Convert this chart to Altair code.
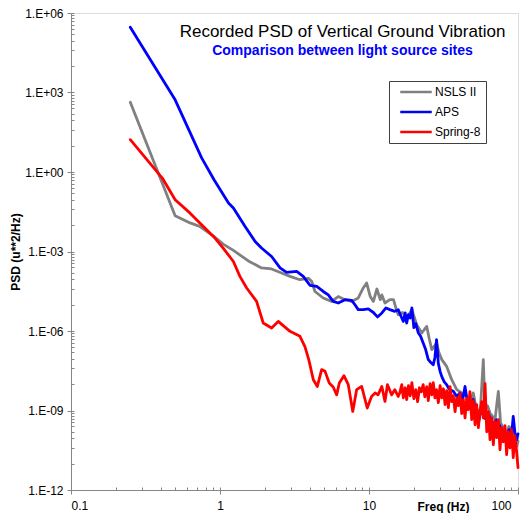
import altair as alt
import pandas as pd

# ---------------- data ----------------
nsls_freq = [0.25, 0.5, 0.63, 0.73, 0.9, 1.05, 1.23, 1.55, 1.9, 2.22, 2.59, 2.95, 3.44,
             3.92, 4.12, 4.34, 4.93, 5.61, 6.22, 6.9, 7.65, 8.47, 9.15, 9.64, 10.2, 10.7,
             11.3, 11.9, 12.2, 12.8, 13.8, 14.6, 15.2, 15.7, 16.8, 17.9, 19.4, 20.9, 22.6,
             24.4, 25.4, 26.4, 28.4, 29.5, 30.8, 33.2, 35.9, 38.8, 41.9, 45.3, 47.6, 50.1,
             52.0, 54.2, 56.0, 58.5, 60.1, 62.5, 64.9, 67.5, 70.1, 73.8, 76.4, 80.0, 83.9,
             87.0, 90.6, 94.0, 98.0, 100]
nsls_psd = [4.3e2, 2.25e-2, 1.2e-2, 8.9e-3, 3.9e-3, 1.9e-3, 1.1e-3, 4.4e-4, 2.4e-4, 2.2e-4,
            1.55e-4, 1.15e-4, 8.6e-5, 9.7e-5, 7.5e-5, 3.1e-5, 1.76e-5, 1.31e-5, 2.0e-5,
            1.52e-5, 1.31e-5, 1.76e-5, 4.2e-5, 6.5e-5, 2.0e-5, 1.31e-5, 3.85e-5, 1.52e-5,
            2.3e-5, 1.14e-5, 1.52e-5, 1.52e-5, 7.0e-6, 4.1e-6, 5.0e-6, 3.1e-6, 6.4e-6,
            1.73e-6, 8.4e-7, 1.49e-6, 5.0e-7, 1.97e-7, 3.5e-7, 1.5e-7, 8.3e-8, 4.6e-8,
            1.45e-8, 6.1e-9, 4.6e-9, 3.4e-9, 1.6e-9, 4.6e-9, 1.5e-9, 8.0e-10, 1.2e-9,
            8.3e-8, 1.07e-9, 1.5e-9, 8.0e-10, 6.0e-10, 4.5e-10, 5.3e-9, 3.4e-10, 2.2e-10,
            1.42e-10, 2.5e-10, 1.88e-10, 9.0e-11, 4.4e-11, 7.0e-11]

aps_freq = [0.25, 0.5, 0.753, 0.912, 1.14, 1.23, 1.47, 1.72, 1.9, 2.22, 2.53, 2.8, 3.27,
            3.62, 4.02, 4.46, 4.93, 5.33, 5.75, 6.22, 6.9, 7.65, 8.05, 8.47, 9.15, 9.89,
            10.7, 11.4, 12.2, 13.0, 13.8, 14.9, 15.7, 16.4, 17.0, 17.5, 17.9, 18.4, 18.9,
            19.4, 20.0, 20.6, 21.4, 22.2, 23.1, 24.0, 25.0, 26.0, 27.0, 27.7, 28.4, 29.2,
            30.0, 30.8, 32.0, 33.2, 34.5, 35.9, 36.8, 38.8, 40.8, 42.5, 44.1, 45.3, 46.4,
            48.0, 50.1, 52.0, 54.2, 55.6, 57.0, 59.3, 61.7, 64.0, 66.6, 68.3, 71.9, 75.7,
            79.7, 83.9, 87.0, 90.6, 92.9, 95.4, 98.0, 100]
aps_psd = [2.9e5, 5.3e2, 3.4, 0.51, 0.068, 0.044, 8.9e-3, 2.4e-3, 1.35e-3, 6.5e-4, 2.4e-4,
           1.63e-4, 1.77e-4, 1.15e-4, 5.3e-5, 4.8e-5, 3.1e-5, 2.3e-5, 1.31e-5, 1.14e-5,
           1.52e-5, 1.43e-5, 9.8e-6, 6.4e-6, 6.4e-6, 6.8e-6, 5.0e-6, 3.4e-6, 4.8e-6, 7.4e-6,
           6.4e-6, 5.5e-6, 6.4e-6, 3.6e-6, 2.3e-6, 4.8e-6, 2.0e-6, 4.1e-6, 3.1e-6, 7.4e-6,
           1.33e-6, 1.9e-6, 8.6e-7, 6.3e-7, 3.5e-7, 2.0e-7, 8.3e-8, 6.5e-8, 5.3e-8, 1.0e-7,
           4.7e-7, 6.0e-8, 3.0e-8, 1.9e-8, 1.2e-8, 9.4e-9, 6.5e-9, 5.6e-9, 5.3e-9, 3.4e-9,
           4.6e-9, 2.5e-9, 8.1e-9, 3.0e-9, 1.9e-9, 1.2e-9, 2.6e-9, 9.0e-10, 3.4e-10, 7.0e-10,
           1.07e-9, 5.3e-10, 4.5e-10, 6.6e-10, 2.7e-10, 3.4e-10, 4.5e-10, 2.5e-10, 1.6e-10,
           1.05e-10, 1.9e-10, 1.2e-10, 6.0e-10, 1.4e-10, 7.9e-11, 1.3e-10]

spring8_freq = [0.25, 0.41, 0.5, 0.63, 0.77, 0.925, 1.05, 1.23, 1.36, 1.51, 1.76, 1.95,
                2.22, 2.46, 2.95, 3.44, 3.72, 3.95, 4.23, 4.5, 4.81, 5.07, 5.41, 5.75, 6.07,
                6.32, 6.79, 7.26, 7.78, 8.26, 8.93, 9.73, 10.4, 11.0, 11.5, 12.2, 12.8, 13.3,
                14.2, 14.9, 15.7, 16.1, 16.6, 17.0, 17.5, 17.9, 18.4, 18.9, 19.4, 20.0, 20.6,
                21.2, 21.8, 22.4, 23.1, 23.7, 24.4, 25.0, 25.7, 26.4, 27.0, 27.7, 28.4, 29.2,
                30.0, 30.8, 31.6, 32.4, 33.2, 34.1, 35.0, 35.9, 36.8, 37.8, 38.8, 39.8, 40.8,
                41.9, 43.0, 44.1, 45.3, 46.4, 47.6, 48.9, 50.1, 51.5, 52.8, 54.2, 55.6, 57.0,
                58.5, 60.1, 61.7, 63.3, 64.9, 66.6, 68.3, 70.1, 71.9, 73.8, 75.7, 77.7, 79.7,
                81.8, 83.9, 86.1, 88.3, 90.6, 92.9, 95.4, 97.9, 100]
spring8_psd = [16.6, 0.59, 0.09, 0.028, 8.9e-3, 3.2e-3, 1.35e-3, 4.2e-4, 1.15e-4, 4.2e-5,
               1.31e-5, 2.0e-6, 1.3e-6, 2.3e-6, 9.7e-7, 6.3e-7, 2.5e-7, 8.0e-8, 1.45e-8,
               8.1e-9, 3.5e-8, 3.0e-8, 1.09e-8, 7.7e-9, 3.9e-9, 1.09e-8, 2.06e-8, 9.4e-9,
               9.2e-10, 6.1e-9, 8.1e-9, 1.24e-9, 3.4e-9, 4.6e-9, 3.9e-9, 8.1e-9, 2.2e-9,
               9.4e-9, 3.9e-9, 6.1e-9, 3.4e-9, 4.7e-9, 9.4e-9, 3.0e-9, 7.2e-9, 2.56e-9,
               8.6e-9, 3.6e-9, 1.12e-8, 2.8e-9, 6.1e-9, 2.15e-9, 7.2e-9, 5.1e-9, 9.4e-9,
               3.3e-9, 7.9e-9, 2.34e-9, 1.03e-8, 3.9e-9, 1.12e-8, 3.0e-9, 6.1e-9, 1.97e-9,
               8.6e-9, 3.0e-9, 6.6e-9, 1.66e-9, 5.6e-9, 1.28e-9, 7.9e-9, 2.15e-9, 3.6e-9,
               9.0e-10, 3.0e-9, 1.52e-9, 4.3e-9, 7.6e-10, 2.56e-9, 5.3e-10, 3.0e-9, 1.07e-9,
               5.1e-9, 4.5e-10, 2.34e-9, 2.9e-10, 1.66e-9, 2.24e-10, 9.0e-10, 2.15e-9,
               5.3e-10, 1.03e-8, 1.58e-10, 9.0e-10, 7.9e-11, 5.3e-10, 5.1e-11, 3.8e-10,
               9.4e-11, 4.5e-10, 3.3e-11, 2.24e-10, 6.6e-11, 2.7e-10, 2.15e-11, 1.58e-10,
               3.9e-11, 1.88e-10, 1.66e-11, 1.12e-10, 2.8e-11, 7.0e-12]

sites = ["NSLS II", "APS", "Spring-8"]
site_colors = ["#808080", "#0000FF", "#FF0000"]

x_major = [0.1, 1, 10, 100]
x_minor = [m * d for d in (0.1, 1, 10) for m in range(2, 10)]
y_major = [1e-12, 1e-9, 1e-6, 1e-3, 1, 1e3, 1e6]
y_minor = [k * k * 10.0 ** (e - 2) for e in (-9, -6, -3, 0, 3, 6) for k in range(1, 10)]

rows = []
for name, fr, ps in [("NSLS II", nsls_freq, nsls_psd), ("APS", aps_freq, aps_psd),
                     ("Spring-8", spring8_freq, spring8_psd)]:
    for f, p in zip(fr, ps):
        rows.append({"site": name, "freq": f, "psd": p})
df = pd.DataFrame(rows)

FONT = "Liberation Sans"
AXC = "#868686"

xscale = alt.Scale(type="log", domain=[0.1, 100], nice=False)
yscale = alt.Scale(type="log", domain=[1e-12, 1e6], nice=False)

ylabel = ("'1.E' + (datum.value >= 1 ? '+' : '-') + "
          "(abs(round(log(datum.value)/LN10)) < 10 ? '0' : '') + abs(round(log(datum.value)/LN10))")

# inner ticks layer (minor ticks + inner half of the major ticks)
ticks_layer = alt.Chart(df).mark_line(opacity=0).encode(
    x=alt.X("freq:Q", scale=xscale,
            axis=alt.Axis(orient="bottom", offset=-3, values=x_major + x_minor, tickSize=3,
                          labels=False, domain=False, grid=False, title=None,
                          tickColor=AXC, tickWidth=1)),
    y=alt.Y("psd:Q", scale=yscale,
            axis=alt.Axis(orient="left", offset=-3, values=y_major + y_minor, tickSize=3,
                          labels=False, domain=False, grid=False, title=None,
                          tickColor=AXC, tickWidth=1)),
    detail="site:N",
)

color = alt.Color("site:N",
                  scale=alt.Scale(domain=sites, range=site_colors),
                  legend=alt.Legend(title=None, orient="none", legendX=318, legendY=68,
                                    symbolType="M-3.5,0L3.5,0", symbolSize=81,
                                    symbolStrokeWidth=2.5, symbolOffset=16,
                                    labelOffset=13,
                                    labelExpr="datum.label + '\u00a0\u00a0'",
                                    labelFont=FONT, labelFontSize=12,
                                    labelColor="black", strokeColor="#404040",
                                    fillColor="white", padding=5, rowPadding=8))

def site_layer(name, with_axes):
    if with_axes:
        xax = alt.Axis(orient="bottom", values=x_major, tickSize=4, format="~g",
                       labelFont=FONT, labelFontSize=12, labelColor="black",
                       labelPadding=6,
                       labelOffset={"condition": {"test": "datum.value >= 100", "value": -7},
                                    "value": 0},
                       grid=False, domainColor=AXC, tickColor=AXC,
                       title="Freq (Hz)", titleFont=FONT, titleFontSize=12,
                       titleFontWeight="bold", titleColor="black", titleX=372,
                       titleY=11, titleAlign="center", titleBaseline="top")
        yax = alt.Axis(orient="left", values=y_major, tickSize=4, labelExpr=ylabel,
                       labelFont=FONT, labelFontSize=12, labelColor="black",
                       labelPadding=4, grid=False, domainColor=AXC, tickColor=AXC,
                       title="PSD (u**2/Hz)", titleFont=FONT, titleFontSize=12,
                       titleFontWeight="bold", titleColor="black", titleX=-56,
                       titleY=238.5, titleAlign="center", titleBaseline="middle")
    else:
        xax = None
        yax = None
    return alt.Chart(df).transform_filter(alt.datum.site == name).mark_line(
        strokeWidth=2.8, strokeJoin="round", strokeCap="round"
    ).encode(
        x=alt.X("freq:Q", scale=xscale, axis=xax),
        y=alt.Y("psd:Q", scale=yscale, axis=yax),
        color=color,
    )

chart = alt.layer(
    ticks_layer,
    site_layer("NSLS II", True),
    site_layer("APS", False),
    site_layer("Spring-8", False),
).resolve_axis(x="independent", y="independent").properties(
    width=447,
    height=477,
    autosize=alt.AutoSizeParams(type="none"),
    padding={"left": 63, "top": 5, "right": 3, "bottom": 23},
    title=alt.TitleParams(
        text="Recorded PSD of Vertical Ground Vibration",
        subtitle="Comparison between light source sites",
        font=FONT, fontSize=17, fontWeight="normal", color="black",
        subtitleFont=FONT, subtitleFontSize=14, subtitleFontWeight="bold",
        subtitleColor="#0000FF", subtitlePadding=3,
        anchor="middle", dx=48, offset=-52,
    ),
).configure_view(stroke="#B4B4B4", strokeWidth=1).configure(background="white")

chart.save("out.html", embed_options={"renderer": "svg", "actions": False})
